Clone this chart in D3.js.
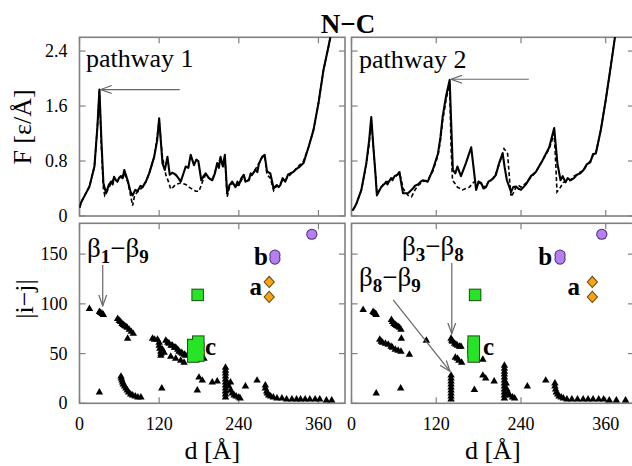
<!DOCTYPE html>
<html>
<head>
<meta charset="utf-8">
<script src="https://cdn.jsdelivr.net/npm/d3@7"></script>
<style>
body { margin: 0; background: #fff; }
</style>
</head>
<body>
<div id="chart"></div>
<script>
// ---- data ----
const xTicks = [0, 120, 240, 360];
const fTicks = [0, 0.8, 1.6, 2.4];
const fTickLabels = ["0", "0.8", "1.6", "2.4"];
const ijTicks = [0, 50, 100, 150];

// pathway 1, F(d)
const p1Solid = [[0,0.12],[2.5,0.2],[8,0.3],[15,0.43],[22.5,0.72],[27,1.3],[30,1.84],[33,1.1],[36,0.48],[40,0.33],[44,0.45],[47.5,0.5],[50,0.46],[52,0.57],[55,0.52],[57,0.5],[60,0.56],[62,0.58],[65,0.55],[67.5,0.67],[72.5,0.52],[77,0.35],[80,0.3],[84,0.38],[87.5,0.36],[92,0.44],[95,0.42],[100,0.5],[105,0.62],[112.5,0.86],[117,1.1],[120,1.42],[125,0.77],[128.5,0.67],[132.5,0.86],[136,0.6],[140,0.63],[145,0.6],[149,0.55],[152.5,0.5],[156,0.6],[160,0.72],[164,0.7],[167.5,0.89],[172.5,0.74],[176,0.82],[179,0.8],[183.5,0.52],[187,0.58],[190,0.62],[195,0.55],[200,0.52],[204,0.62],[207.5,0.77],[210,0.7],[212.5,0.86],[216,0.72],[219,0.89],[222.5,0.33],[226,0.45],[230,0.5],[235,0.42],[238,0.5],[240,0.45],[244,0.55],[247.5,0.6],[250,0.5],[255,0.52],[258,0.62],[260,0.6],[265,0.67],[268,0.64],[270,0.75],[275,0.86],[279,0.89],[282.5,0.65],[287.5,0.62],[292.5,0.4],[297,0.45],[300,0.42],[302.5,0.45],[306,0.55],[310,0.5],[314,0.6],[317.5,0.62],[322,0.64],[327.5,0.69],[332,0.72],[337.5,0.77],[345,1.0],[352.5,1.25],[360,1.64],[367.5,2.12],[375,2.46],[380,2.7]];
const p1Dashed = [[0,0.12],[2.5,0.2],[8,0.3],[15,0.43],[22.5,0.72],[27,1.3],[30,1.82],[33,1.0],[36,0.4],[38,0.3],[44,0.4],[47.5,0.48],[52,0.55],[57,0.5],[62,0.56],[67.5,0.62],[72.5,0.5],[77,0.3],[80,0.15],[83,0.3],[87.5,0.35],[95,0.42],[100,0.5],[105,0.62],[112.5,0.86],[117,1.15],[120,1.38],[125,0.85],[128.5,0.7],[130,0.6],[134,0.5],[137.5,0.39],[141,0.42],[145,0.46],[152.5,0.48],[160,0.46],[165,0.42],[170,0.39],[175,0.36],[180,0.36],[183.5,0.45],[186,0.52],[190,0.6],[195,0.55],[200,0.52],[207.5,0.75],[212.5,0.84],[216,0.74],[219,0.86],[222.5,0.28],[226,0.42],[230,0.48],[235,0.44],[240,0.45],[247.5,0.58],[250,0.52],[255,0.52],[260,0.6],[265,0.68],[270,0.76],[275,0.85],[279,0.88],[282.5,0.6],[287.5,0.55],[292.5,0.37],[297,0.44],[302.5,0.46],[306,0.52],[310,0.52],[317.5,0.6],[322,0.64],[327.5,0.7],[337.5,0.8],[345,1.0],[352.5,1.25],[360,1.64],[367.5,2.12],[375,2.46],[380,2.7]];

// pathway 2, F(d)
const p2Solid = [[1.4,0.08],[4,0.12],[7,0.18],[14,0.38],[21,0.77],[25,1.1],[28,1.44],[31,1.0],[34,0.6],[36,0.3],[42,0.42],[45,0.45],[49,0.49],[51,0.46],[53,0.5],[56,0.55],[58,0.52],[61,0.58],[65,0.6],[68,0.64],[70,0.5],[73,0.33],[80,0.33],[87,0.4],[90,0.44],[94,0.46],[98,0.5],[101,0.52],[108,0.5],[115,0.67],[122.5,0.91],[126,1.15],[129,1.44],[134,1.75],[139,1.98],[141,1.4],[143.5,0.67],[147,0.62],[150,0.72],[155,0.58],[162,0.77],[169.5,1.0],[176.5,0.38],[180,0.5],[183.5,0.48],[187,0.4],[190.5,0.42],[194,0.5],[197.5,0.52],[201,0.55],[204.5,0.6],[209,0.77],[214,0.91],[217,0.7],[220,0.52],[226,0.35],[229,0.42],[233,0.43],[236,0.4],[240,0.38],[247,0.46],[254,0.58],[261,0.64],[270,0.8],[280,1.0],[287,1.28],[291.5,0.77],[296,0.52],[299,0.58],[303,0.49],[306,0.55],[310,0.52],[315,0.55],[319,0.6],[324,0.62],[328.5,0.67],[333,0.75],[338,0.78],[342,0.9],[346,0.91],[353,1.25],[360,1.69],[367,2.17],[373,2.6],[375,2.75]];
const p2Dashed = [[1.4,0.08],[4,0.12],[7,0.18],[14,0.38],[21,0.75],[25,1.05],[28,1.4],[31,1.0],[34,0.6],[36,0.32],[42,0.42],[45,0.46],[49,0.5],[53,0.5],[56,0.54],[61,0.56],[65,0.6],[68,0.62],[70,0.55],[73,0.4],[80,0.3],[85,0.28],[90,0.38],[94,0.44],[101,0.5],[108,0.52],[115,0.65],[122.5,0.88],[126,1.1],[129,1.38],[134,1.7],[139,1.92],[141,1.0],[143,0.52],[146,0.48],[150,0.42],[157,0.38],[162,0.4],[167,0.42],[172,0.48],[176,0.52],[180,0.5],[183.5,0.46],[187,0.42],[190.5,0.44],[194,0.5],[197.5,0.52],[201,0.56],[204.5,0.62],[209,0.75],[212,0.85],[216,0.98],[221,0.91],[224,0.5],[226,0.28],[230,0.35],[233,0.42],[236,0.45],[240,0.42],[247,0.48],[254,0.56],[261,0.64],[270,0.8],[280,0.98],[287,1.2],[289,0.8],[291,0.35],[296,0.42],[300,0.49],[303,0.5],[310,0.52],[315,0.58],[319,0.6],[324,0.64],[328.5,0.66],[333,0.74],[338,0.8],[342,0.88],[346,0.92],[353,1.25],[360,1.69],[367,2.17],[373,2.6],[375,2.75]];

// contact distances |i-j| vs d (black triangles)
const contacts1 = [[15,95],[30,92],[32,91],[34,90],[36,89],[57.5,85],[60,83],[62,82],[64,80],[66,79],[68,78],[70,77],[72,76],[75,74],[78,72],[81,70],[72.5,65],[30,11],[62.5,27],[63,25],[64,23],[65,21],[66,19],[68,17],[70,15],[72,13],[74,11],[77,9],[80,8],[84,7],[88,6],[92.5,6],[110,65],[113,64],[117.5,64],[120,61],[120,58],[121,55],[122.5,52],[123,50],[122.5,48],[125,54],[127.5,51],[130,63],[133,61],[135,60],[138,58],[140,58],[143,56],[145,56],[148,54],[150,52],[153,51],[155,50],[158,49],[160,48],[137.5,47],[145,45],[152.5,43],[157.5,41],[124,15],[177.5,13],[180,26],[185,23],[187.5,45],[200,21],[207.5,22],[220,36],[220,33],[220,30],[220,27],[220,24],[220,21],[220,18],[220,15],[220,12],[220,9],[220,6],[223,20],[225,17],[227.5,21],[228,13],[230,10],[233,8],[236,7],[240,6],[242,5],[250,17],[267.5,23],[280,18],[280,15],[282,12],[283,10],[285,8],[288,7],[292,6],[297.5,5],[305,5],[312,4],[320,4],[327,4],[333,4],[340,4],[347,4],[355,4],[362,4],[372,3],[380,3]];
const contacts2 = [[16.5,94],[30.5,92],[32,91],[34,90],[35,89],[56.5,84],[58,82],[60,80],[62,79],[64,78],[66,77],[68,76],[70,74],[70.6,65],[40,64],[42,62],[44,61],[48,60],[52,59],[56,57],[58,56],[62,54],[66,53],[70,52],[82,49],[106,63],[35,10],[69.6,15],[141,65],[142,63],[143,62],[146,60],[148,59],[150,58],[153,57],[155,57],[147,46],[150,45],[152,43],[156,41],[186,44],[141,28],[141,25],[141,22],[141,19],[141,16],[141,13],[141,10],[141,7],[141,4],[174,13.5],[186,28],[190,25],[202,22],[216.5,38],[216.5,35],[216.5,32],[216.5,29],[216.5,26],[216.5,23],[216.5,20],[216.5,17],[216.5,14],[216.5,11],[216.5,8],[216.5,5],[219,20],[220,14],[222,10],[224,8],[228,6],[231,5],[249,17],[275,23],[288,20],[288,17],[289,14],[290,11],[292,9],[294,7],[297,6],[300,5],[305,4],[312,4],[320,4],[328,4],[335,4],[342,4],[350,4],[357,4],[365,3],[375,3],[388,3]];

// structures a, b, c and others
const green1 = [[178,109],[171.4,47],[171.4,52],[171.4,58.6],[179,48],[179,55],[179,62]];
const green2 = [[175,109],[173,47],[173,52],[173,57],[173,62]];
const purple1 = [[350,170],[294.4,145],[294.4,149]];
const purple2 = [[354.4,170],[295.3,145],[295.3,149]];
const orange1 = [[285.8,122],[285.8,107]];
const orange2 = [[341,122],[341,107]];
const letters1 = [["a",275,109,"end"],["b",283.9,139,"end"],["c",189,48.6,"start"]];
const letters2 = [["a",323.7,109,"end"],["b",284,139,"end"],["c",186.3,48.6,"start"]];

// ---- layout ----
const svg = d3.select("#chart").append("svg")
    .attr("width", 632).attr("height", 466)
    .style("background", "#fff");

const xL = d3.scaleLinear().domain([0, 400]).range([79.5, 345]);
const xR = d3.scaleLinear().domain([0, 400]).range([351.5, 634]);
const yF = d3.scaleLinear().domain([0, 2.6]).range([216, 37.3]);
const yIJ = d3.scaleLinear().domain([0, 181]).range([403.3, 223.3]);

const frameColor = "#808080";

const defs = svg.append("defs");
defs.append("marker").attr("id", "open")
    .attr("viewBox", "0 0 12 10").attr("refX", 11).attr("refY", 5)
    .attr("markerWidth", 12).attr("markerHeight", 10)
    .attr("markerUnits", "userSpaceOnUse").attr("orient", "auto")
    .append("path").attr("d", "M0,1 L11,5 L0,9")
    .attr("fill", "none").attr("stroke", "#666").attr("stroke-width", 1.2);

let clipN = 0;
function panel(x, y, yTicks, yLabels, xLabels) {
    const g = svg.append("g");
    const [x0, x1] = x.range();
    const [y0, y1] = y.range();
    const id = "clip" + (clipN++);
    defs.append("clipPath").attr("id", id).append("rect")
        .attr("x", x0).attr("y", y1).attr("width", x1 - x0).attr("height", y0 - y1);

    // ticks on all four sides, pointing in
    xTicks.forEach(t => {
        g.append("line").attr("x1", x(t)).attr("x2", x(t)).attr("y1", y0).attr("y2", y0 - 6)
            .attr("stroke", frameColor).attr("stroke-width", 1.2);
        g.append("line").attr("x1", x(t)).attr("x2", x(t)).attr("y1", y1).attr("y2", y1 + 6)
            .attr("stroke", frameColor).attr("stroke-width", 1.2);
    });
    yTicks.forEach(t => {
        g.append("line").attr("x1", x0).attr("x2", x0 + 6).attr("y1", y(t)).attr("y2", y(t))
            .attr("stroke", frameColor).attr("stroke-width", 1.2);
        g.append("line").attr("x1", x1).attr("x2", x1 - 6).attr("y1", y(t)).attr("y2", y(t))
            .attr("stroke", frameColor).attr("stroke-width", 1.2);
    });
    g.append("rect").attr("x", x0).attr("y", y1).attr("width", x1 - x0).attr("height", y0 - y1)
        .attr("fill", "none").attr("stroke", frameColor).attr("stroke-width", 1.6);

    if (yLabels) {
        g.selectAll(".yl").data(yTicks).enter().append("text")
            .attr("x", x0 - 12).attr("y", d => y(d) + 6)
            .attr("text-anchor", "end").style("font-size", "18px")
            .text((d, i) => yLabels[i]);
    }
    if (xLabels) {
        g.selectAll(".xl").data(xTicks).enter().append("text")
            .attr("x", d => x(d)).attr("y", y0 + 27)
            .attr("text-anchor", "middle").style("font-size", "18px")
            .text(d => d);
    }
    return "url(#" + id + ")";
}

function curves(x, y, solid, dashed, clip) {
    const line = d3.line().x(d => x(d[0])).y(d => y(d[1]));
    const g = svg.append("g").attr("clip-path", clip);
    g.append("path").attr("d", line(dashed)).attr("fill", "none")
        .attr("stroke", "#000").attr("stroke-width", 1.6).attr("stroke-dasharray", "4,2.5");
    g.append("path").attr("d", line(solid)).attr("fill", "none")
        .attr("stroke", "#000").attr("stroke-width", 2.1).attr("stroke-linejoin", "round");
}

function arrow(x1, y1, x2, y2) {
    svg.append("line").attr("x1", x1).attr("y1", y1).attr("x2", x2).attr("y2", y2)
        .attr("stroke", "#666").attr("stroke-width", 1.2).attr("marker-end", "url(#open)");
}

function beta(px, py, a, b) {
    const t = svg.append("text").attr("x", px).attr("y", py).style("font-size", "27px");
    t.append("tspan").text("β");
    t.append("tspan").attr("dy", 6).style("font-size", "19px").style("font-weight", "bold").text(a);
    t.append("tspan").attr("dy", -6).text("−β");
    t.append("tspan").attr("dy", 6).style("font-size", "19px").style("font-weight", "bold").text(b);
}

function structures(x, y, contacts, green, purple, orange, letters) {
    const g = svg.append("g");
    const tri = d3.symbol().type(d3.symbolTriangle).size(24);
    g.selectAll(".tri").data(contacts).enter().append("path")
        .attr("d", tri).attr("transform", d => `translate(${x(d[0])},${y(d[1])})`)
        .attr("fill", "#000");

    // outlines first, then fills, so overlapping shapes merge
    const sq = 10.5;
    g.selectAll(".gso").data(green).enter().append("rect")
        .attr("x", d => x(d[0]) - sq / 2 - 1).attr("y", d => y(d[1]) - sq / 2 - 1)
        .attr("width", sq + 2).attr("height", sq + 2).attr("fill", "#1c4d12");
    g.selectAll(".gsf").data(green).enter().append("rect")
        .attr("x", d => x(d[0]) - sq / 2).attr("y", d => y(d[1]) - sq / 2)
        .attr("width", sq).attr("height", sq).attr("fill", "#27e427");

    g.selectAll(".pco").data(purple).enter().append("circle")
        .attr("cx", d => x(d[0])).attr("cy", d => y(d[1])).attr("r", 5.6).attr("fill", "#4a2d70");
    g.selectAll(".pcf").data(purple).enter().append("circle")
        .attr("cx", d => x(d[0])).attr("cy", d => y(d[1])).attr("r", 4.6).attr("fill", "#b57ff0");

    // diamonds: squares turned 45 degrees
    const dia = d3.symbol().type(d3.symbolSquare).size(52);
    g.selectAll(".od").data(orange).enter().append("path")
        .attr("d", dia).attr("transform", d => `translate(${x(d[0])},${y(d[1])}) scale(1,1.1) rotate(45)`)
        .attr("fill", "#f5a416").attr("stroke", "#6e4a0e").attr("stroke-width", 1);

    g.selectAll(".let").data(letters).enter().append("text")
        .attr("x", d => x(d[1])).attr("y", d => y(d[2]))
        .attr("text-anchor", d => d[3])
        .style("font-size", "25px").style("font-weight", "bold")
        .text(d => d[0]);
}

// ---- top panels ----
const c1 = panel(xL, yF, fTicks, fTickLabels, false);
curves(xL, yF, p1Solid, p1Dashed, c1);
const c2 = panel(xR, yF, fTicks, null, false);
curves(xR, yF, p2Solid, p2Dashed, c2);

// ---- bottom panels ----
panel(xL, yIJ, ijTicks, ijTicks.map(String), true);
structures(xL, yIJ, contacts1, green1, purple1, orange1, letters1);
panel(xR, yIJ, ijTicks, null, true);
structures(xR, yIJ, contacts2, green2, purple2, orange2, letters2);

// ---- annotations ----
svg.append("text").attr("x", 86).attr("y", 67).style("font-size", "26px").text("pathway 1");
svg.append("text").attr("x", 359).attr("y", 68).style("font-size", "26px").text("pathway 2");
arrow(xL(151), yF(1.84), xL(32), yF(1.84));
arrow(xR(251), yF(1.99), xR(141), yF(1.99));

beta(87, 257, "1", "9");
arrow(xL(35), yIJ(139), xL(35), yIJ(98));
beta(402, 255, "3", "8");
arrow(xR(142), yIJ(141), xR(142), yIJ(70));
beta(359, 286, "8", "9");
arrow(xR(59), yIJ(104), xR(139.5), yIJ(32));

// ---- titles ----
svg.append("text").attr("x", 348).attr("y", 33).attr("text-anchor", "middle")
    .style("font-size", "27px").style("font-weight", "bold").text("N−C");

svg.append("text").attr("transform", "translate(31,127) rotate(-90)")
    .attr("text-anchor", "middle").style("font-size", "26px").text("F [ε/Å]");
svg.append("text").attr("transform", "translate(33,299) rotate(-90)")
    .attr("text-anchor", "middle").style("font-size", "26px").text("|i−j|");

svg.append("text").attr("x", (xL(0) + xL(400)) / 2).attr("y", 459)
    .attr("text-anchor", "middle").style("font-size", "26px").text("d [Å]");
svg.append("text").attr("x", (xR(0) + xR(400)) / 2).attr("y", 459)
    .attr("text-anchor", "middle").style("font-size", "26px").text("d [Å]");

// serif everywhere
svg.selectAll("text").style("font-family", "Liberation Serif").style("fill", "#000");
</script>
</body>
</html>
